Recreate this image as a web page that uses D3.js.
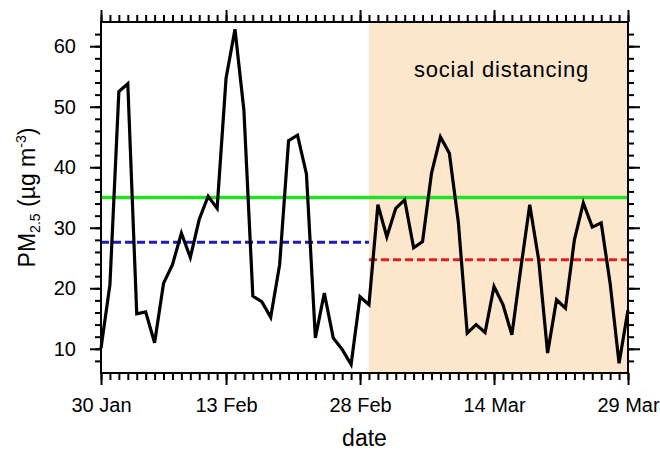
<!DOCTYPE html>
<html>
<head>
<meta charset="utf-8">
<script src="https://cdn.jsdelivr.net/npm/d3@7"></script>
<style>
  body { margin: 0; background: #fff; }
  svg { display: block; font-family: 'Liberation Sans', Arial, Helvetica, sans-serif; }
  .axis path { display: none; }
  .axis line { stroke: #000; stroke-width: 2; }
  .axis text { font-size: 20px; fill: #000; }
</style>
</head>
<body>
<svg id="chart"></svg>
<script>
const startDay = '2020-01-30';
const distancingStart = '2020-02-29';
const endDay = '2020-03-29';

// daily PM2.5, 30 Jan .. 29 Mar
const pm25 = [
  10.1, 20.6, 52.5, 53.8, 15.8, 16.1, 11.0, 20.8, 23.9, 29.1,
  25.1, 31.4, 35.2, 33.2, 54.7, 62.8, 49.4, 18.7, 17.8, 15.2,
  23.9, 44.4, 45.3, 38.9, 11.8, 19.2, 11.8, 9.9, 7.4, 18.6,
  17.3, 33.8, 28.5, 33.2, 34.6, 26.7, 27.7, 39.0, 45.0, 42.3,
  31.0, 12.6, 14.0, 12.7, 20.3, 17.3, 12.3, 23.3, 33.8, 24.7,
  9.3, 18.1, 16.7, 28.0, 34.1, 30.1, 30.8, 20.8, 7.6, 16.4
];
const standardLevel = 35;
const xTickLabels = ['30 Jan', '13 Feb', '28 Feb', '14 Mar', '29 Mar'];
const yTickLabels = [10, 20, 30, 40, 50, 60];

const margin = { top: 22, right: 32, bottom: 79, left: 101 };
const width = 660 - margin.left - margin.right;
const height = 452 - margin.top - margin.bottom;

const parse = d3.utcParse('%Y-%m-%d');
const t0 = parse(startDay);
const tSplit = parse(distancingStart);
const t1 = parse(endDay);
const data = pm25.map((v, i) => ({ date: d3.utcDay.offset(t0, i), v }));

const before = data.filter(d => d.date < tSplit);
const after = data.filter(d => d.date >= tSplit);
const meanBefore = d3.mean(before, d => d.v);
const meanAfter = d3.mean(after, d => d.v);

const x = d3.scaleUtc().domain([t0, t1]).range([0, width]);
const y = d3.scaleLinear().domain([6, 64]).range([height, 0]);

const fmt = d3.utcFormat('%-d %b');
const minorDates = d3.utcDay.range(t0, d3.utcDay.offset(t1, 1));
const majorDates = minorDates.filter(d => xTickLabels.includes(fmt(d)));
const yMinor = d3.range(8, 64, 2);

const svg = d3.select('#chart')
  .attr('width', 660)
  .attr('height', 452);
const chart = svg.append('g')
  .attr('transform', `translate(${ margin.left }, ${ margin.top })`);

// shaded period
chart.append('rect')
  .attr('x', x(tSplit))
  .attr('y', 0)
  .attr('width', x(t1) - x(tSplit))
  .attr('height', height)
  .attr('fill', '#fde7cc');

chart.append('text')
  .attr('x', (x(tSplit) + x(t1)) / 2 + 3)
  .attr('y', 55)
  .attr('text-anchor', 'middle')
  .style('font-size', '22px')
  .style('letter-spacing', '0.8px')
  .text('social distancing');

// reference lines
chart.append('line')
  .attr('x1', 0).attr('x2', width)
  .attr('y1', y(standardLevel)).attr('y2', y(standardLevel))
  .attr('stroke', '#22e022').attr('stroke-width', 3.5);

chart.append('line')
  .attr('x1', 0).attr('x2', x(tSplit))
  .attr('y1', y(meanBefore)).attr('y2', y(meanBefore))
  .attr('stroke', '#1c1cb4').attr('stroke-width', 3)
  .attr('stroke-dasharray', '8 4');

chart.append('line')
  .attr('x1', x(tSplit)).attr('x2', width)
  .attr('y1', y(meanAfter)).attr('y2', y(meanAfter))
  .attr('stroke', '#de2020').attr('stroke-width', 3)
  .attr('stroke-dasharray', '8 4');

chart.append('path')
  .datum(data)
  .attr('fill', 'none')
  .attr('stroke', '#000')
  .attr('stroke-width', 3.2)
  .attr('stroke-linejoin', 'miter')
  .attr('d', d3.line().x(d => x(d.date)).y(d => y(d.v)));

// axes: minor ticks first, then major ticks with labels
chart.append('g').attr('class', 'axis')
  .attr('transform', `translate(0, ${ height })`)
  .call(d3.axisBottom(x).tickValues(minorDates).tickFormat('').tickSize(7).tickSizeOuter(0));
chart.append('g').attr('class', 'axis')
  .attr('transform', `translate(0, ${ height })`)
  .call(d3.axisBottom(x).tickValues(majorDates).tickFormat(fmt).tickSize(12).tickPadding(13).tickSizeOuter(0));

chart.append('g').attr('class', 'axis')
  .call(d3.axisTop(x).tickValues(minorDates).tickFormat('').tickSize(7).tickSizeOuter(0));
chart.append('g').attr('class', 'axis')
  .call(d3.axisTop(x).tickValues(majorDates).tickFormat('').tickSize(12).tickSizeOuter(0));

chart.append('g').attr('class', 'axis')
  .call(d3.axisLeft(y).tickValues(yMinor).tickFormat('').tickSize(6).tickSizeOuter(0));
chart.append('g').attr('class', 'axis')
  .call(d3.axisLeft(y).tickValues(yTickLabels).tickSize(11).tickPadding(14).tickSizeOuter(0));

chart.append('g').attr('class', 'axis')
  .attr('transform', `translate(${ width }, 0)`)
  .call(d3.axisRight(y).tickValues(yMinor).tickFormat('').tickSize(6).tickSizeOuter(0));
chart.append('g').attr('class', 'axis')
  .attr('transform', `translate(${ width }, 0)`)
  .call(d3.axisRight(y).tickValues(yTickLabels).tickFormat('').tickSize(12).tickSizeOuter(0));

// frame
chart.append('rect')
  .attr('width', width)
  .attr('height', height)
  .attr('fill', 'none')
  .attr('stroke', '#000')
  .attr('stroke-width', 2);

// axis titles
svg.append('text')
  .attr('x', margin.left + width / 2)
  .attr('y', 446)
  .attr('text-anchor', 'middle')
  .style('font-size', '23px')
  .text('date');

const yTitle = svg.append('text')
  .attr('transform', `translate(35, ${ margin.top + height / 2 }) rotate(-90)`)
  .attr('text-anchor', 'middle')
  .style('font-size', '23px');
yTitle.append('tspan').text('PM');
yTitle.append('tspan').attr('dy', 5).style('font-size', '14px').text('2.5');
yTitle.append('tspan').attr('dy', -5).text(' (\u00b5g m');
yTitle.append('tspan').attr('dy', -9).style('font-size', '14px').text('-3');
yTitle.append('tspan').attr('dy', 9).text(')');
</script>
</body>
</html>
